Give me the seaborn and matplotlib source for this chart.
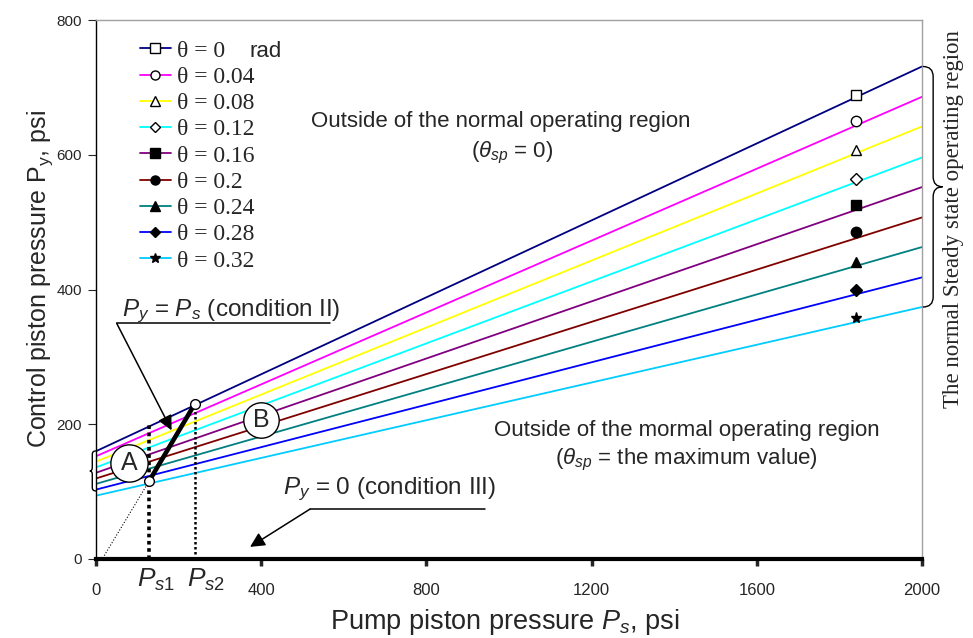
import numpy as np
import pandas as pd
import matplotlib
matplotlib.use("Agg")
import matplotlib.pyplot as plt
import seaborn as sns
from matplotlib.path import Path
from matplotlib.patches import PathPatch
from matplotlib.lines import Line2D

# ---------------- data ----------------
thetas = ["0", "0.04", "0.08", "0.12", "0.16", "0.2", "0.24", "0.28", "0.32"]
ps_ends = [0, 2000]
py_at_0 = [160, 152.5, 144.5, 136, 128, 119.5, 111.5, 103, 94]
py_at_2000 = [731, 686, 642, 596, 552, 507, 463, 418, 374]
marker_ps = 1840
marker_py = [688, 650, 607, 564, 525, 485, 441, 399, 357]

line_colors = ["#000080", "#FF00FF", "#FFFF00", "#00FFFF", "#800080",
               "#800000", "#008080", "#0000FF", "#00CCFF"]
marker_shapes = ["s", "o", "^", "D", "s", "o", "^", "D", "*"]
marker_filled = [False, False, False, False, True, True, True, True, True]

ps1, ps2 = 129, 239
py_ps1, py_ps2 = 116, 230
x_ticks = [0, 400, 800, 1200, 1600, 2000]
y_ticks = [0, 200, 400, 600, 800]

# ---------------- style ----------------
sns.set_style("ticks")
plt.rcParams["font.family"] = ["Liberation Sans", "DejaVu Sans"]
plt.rcParams["mathtext.fontset"] = "custom"
plt.rcParams["mathtext.rm"] = "Liberation Sans"
plt.rcParams["mathtext.it"] = "Liberation Sans:italic"
plt.rcParams["mathtext.bf"] = "Liberation Sans:bold"

W, H = 973, 638
fig = plt.figure(figsize=(W / 100, H / 100), dpi=100)
ax = fig.add_axes([96 / W, 1 - 559 / H, 826 / W, 539 / H])

rows = []
for th, a, b in zip(thetas, py_at_0, py_at_2000):
    rows.append({"theta": th, "Ps": ps_ends[0], "Py": a})
    rows.append({"theta": th, "Ps": ps_ends[1], "Py": b})
df = pd.DataFrame(rows)

sns.lineplot(data=df, x="Ps", y="Py", hue="theta", hue_order=thetas,
             palette=dict(zip(thetas, line_colors)), legend=False,
             linewidth=1.3, ax=ax, zorder=2)

for th, py, m, f in zip(thetas, marker_py, marker_shapes, marker_filled):
    ms = 8 if m == "*" else (6.5 if m == "D" else 7.5)
    ax.plot([marker_ps], [py], marker=m, ms=ms, mfc="black" if f else "white",
            mec="black", mew=1, ls="none", zorder=4)

ax.set_xlim(0, 2000)
ax.set_ylim(0, 800)
ax.set_xticks(x_ticks)
ax.set_xticklabels([str(v) for v in x_ticks])
ax.set_yticks(y_ticks)
ax.set_yticklabels([str(v) for v in y_ticks])
ax.tick_params(axis="x", direction="out", length=5, width=2.5, pad=12, labelsize=12)
ax.tick_params(axis="y", direction="out", length=6, width=0.8, pad=4, labelsize=11)

for s in ["top", "right"]:
    ax.spines[s].set_color("#A0A0A0")
    ax.spines[s].set_linewidth(1.0)
ax.spines["left"].set_color("black")
ax.spines["left"].set_linewidth(1.0)
ax.spines["bottom"].set_color("black")
ax.spines["bottom"].set_linewidth(3.0)

ax.set_xlabel("Pump piston pressure $P_s$, psi", fontsize=19.5)
ax.xaxis.set_label_coords((505 - 96) / 826, (559 - 622) / 539)
ax.xaxis.label.set_verticalalignment("center")
ax.set_ylabel(r"Control piston pressure P$_\mathrm{y}$, psi", fontsize=18)
ax.yaxis.set_label_coords((40 - 96) / 826, (559 - 279) / 539)
ax.yaxis.label.set_verticalalignment("center")

# ---------------- legend ----------------
handles = []
for c, m, f in zip(line_colors, marker_shapes, marker_filled):
    ms = 7 if m == "*" else (5.5 if m == "D" else 6.5)
    handles.append(Line2D([], [], color=c, lw=1.3, marker=m, ms=ms,
                          mfc="black" if f else "white", mec="black", mew=1))
leg = ax.legend(handles, [f"θ = {t}" for t in thetas], loc="upper left",
                bbox_to_anchor=((140 - 96) / 826, (559 - 40) / 539),
                frameon=False, borderpad=0, borderaxespad=0,
                handlelength=1.3, handletextpad=0.25, labelspacing=0.2,
                prop={"family": ["Liberation Serif", "DejaVu Serif"], "size": 17})
ax.text(411, 753, "rad", fontsize=16, ha="center", va="center")

# ---------------- annotations ----------------
ax.text(981, 649, "Outside of the normal operating region", fontsize=16,
        ha="center", va="center")
ax.text(1007, 603, r"($\theta_{sp}$ = 0)", fontsize=16, ha="center", va="center")
ax.text(1431, 191, "Outside of the mormal operating region", fontsize=16,
        ha="center", va="center")
ax.text(1429, 147, r"($\theta_{sp}$ = the maximum value)", fontsize=16,
        ha="center", va="center")

# condition II
ax.text(62, 360, r"$P_y$ = $P_s$ (condition II)", fontsize=17.5, ha="left", va="baseline")
ax.plot([50, 566], [350, 350], color="black", lw=1.1, zorder=5)
ax.annotate("", xy=(183, 191), xytext=(50, 350),
            arrowprops=dict(arrowstyle="-|>", color="black", lw=1.1,
                            mutation_scale=22, shrinkA=0, shrinkB=0), zorder=5)
# condition III
ax.text(453, 96, r"$P_y$ = 0 (condition III)", fontsize=17.5, ha="left", va="baseline")
ax.plot([518, 942], [74, 74], color="black", lw=1.1, zorder=5)
ax.annotate("", xy=(373, 18), xytext=(518, 74),
            arrowprops=dict(arrowstyle="-|>", color="black", lw=1.1,
                            mutation_scale=22, shrinkA=0, shrinkB=0), zorder=5)

# Py = Ps segment and guide lines
ax.plot([20, ps1], [5, py_ps1], color="black", lw=0.8, ls=":", zorder=3)
ax.plot([ps1, ps1], [0, 199], color="black", lw=2.6, dashes=(1, 1), zorder=3)
ax.plot([ps2, ps2], [0, py_ps2], color="black", lw=1.8, dashes=(1, 1), zorder=3)
ax.plot([ps1, ps2], [py_ps1, py_ps2], color="black", lw=3.3, zorder=5,
        solid_capstyle="butt")
ax.plot([ps1, ps2], [py_ps1, py_ps2], ls="none", marker="o", ms=7,
        mfc="white", mec="black", mew=1, zorder=6)

# A / B circles
ax.scatter([80.6], [142], s=720, facecolor="white", edgecolor="black",
           linewidth=1, zorder=6, clip_on=False)
ax.text(80.6, 142, "A", fontsize=18, ha="center", va="center", zorder=7)
ax.scatter([400], [207], s=650, facecolor="white", edgecolor="black",
           linewidth=1, zorder=6)
ax.text(400, 207, "B", fontsize=18, ha="center", va="center", zorder=7)

# Ps1 / Ps2 labels below axis
ax.text(100, -41, r"$P_{\mathit{s1}}$", fontsize=19, ha="left", va="baseline")
ax.text(221, -41, r"$P_{\mathit{s2}}$", fontsize=19, ha="left", va="baseline")


# ---------------- braces ----------------
def brace(x0, xs, xt, ytop, ybot, d):
    ymid = (ytop + ybot) / 2
    verts = [(x0, ytop), (xs, ytop), (xs, ytop - d),
             (xs, ymid + d), (xs, ymid), (xt, ymid),
             (xs, ymid), (xs, ymid - d),
             (xs, ybot + d), (xs, ybot), (x0, ybot)]
    codes = [Path.MOVETO, Path.CURVE3, Path.CURVE3,
             Path.LINETO, Path.CURVE3, Path.CURVE3,
             Path.CURVE3, Path.CURVE3,
             Path.LINETO, Path.CURVE3, Path.CURVE3]
    p = PathPatch(Path(verts, codes), fill=False, lw=1.0, ec="black",
                  clip_on=False, zorder=5)
    ax.add_patch(p)


brace(2002, 2027, 2050, 731, 374, 15)
brace(0, -9, -15, 160.4, 101, 5)

fig.text(954 / W, 1 - 219 / H, "The normal Steady state operating region",
         rotation=90, ha="center", va="center", fontsize=16.5,
         family=["Liberation Serif", "DejaVu Serif"])

fig.savefig("out.png", dpi=100)
